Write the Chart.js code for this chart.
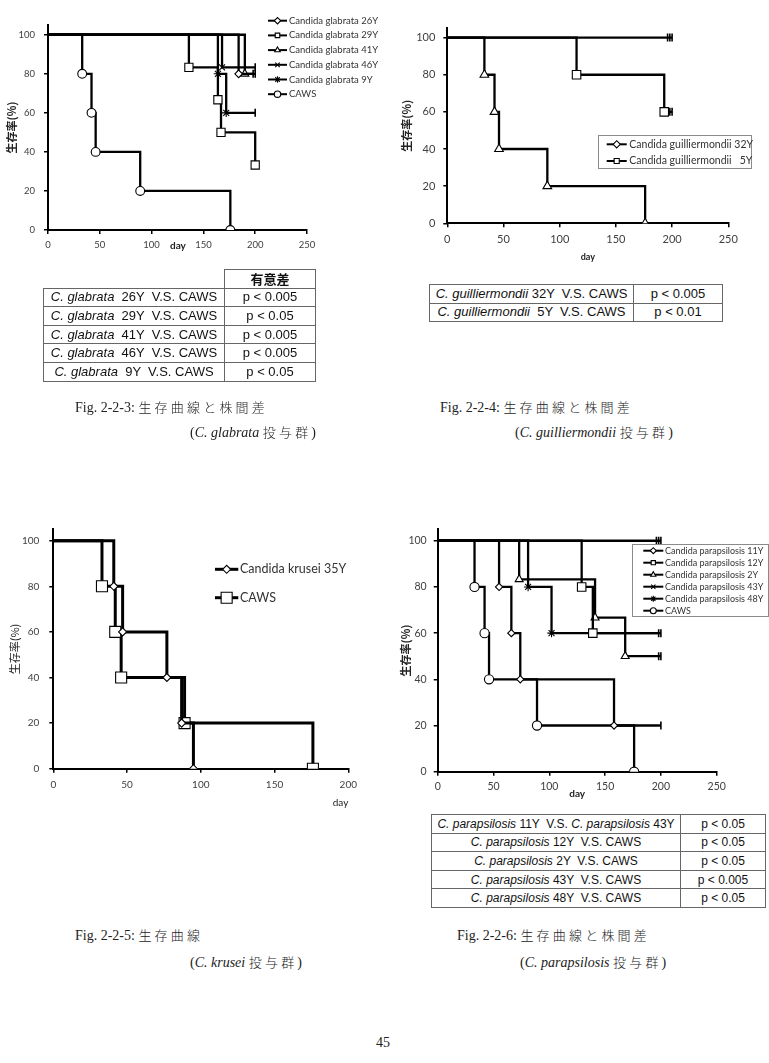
<!DOCTYPE html>
<html>
<head>
<meta charset="utf-8">
<script src="https://cdn.jsdelivr.net/npm/chart.js@4.4.1/dist/chart.umd.min.js"></script>
<style>
  body { margin: 0; background: #fff; width: 769px; height: 1063px; position: relative; overflow: hidden; }
  canvas { position: absolute; }
  table { position: absolute; border-collapse: collapse; table-layout: fixed; font-family: "Liberation Sans", Arial, sans-serif; font-size: 13px; color: #111; }
  td { border: 1px solid #666; text-align: center; padding: 0; height: 17.6px; line-height: 16px; white-space: pre; overflow: hidden; }
  td.nb { border-top: none; border-left: none; }
  td.h { font-family: "Noto Sans CJK JP", sans-serif; font-weight: bold; font-size: 13px; }
  .cap { position: absolute; font-family: "Liberation Serif", "Times New Roman", serif; font-size: 14px; line-height: 16px; color: #222; white-space: nowrap; }
  .jp { font-family: "Noto Sans CJK JP", sans-serif; font-size: 13px; letter-spacing: 3.2px; font-weight: 300; }
  .lbl { position: absolute; font-family: Lato, sans-serif; font-size: 10px; font-weight: bold; color: #222; }
</style>
</head>
<body>

<canvas id="c1"></canvas>
<canvas id="c2"></canvas>
<canvas id="c3"></canvas>
<canvas id="c4"></canvas>
<span class="lbl" style="left:170px;top:239px">day</span>

<table style="left:43px;top:269px;width:272px">
  <colgroup><col style="width:181px"><col style="width:91px"></colgroup>
  <tr><td class="nb"></td><td class="h">有意差</td></tr>
  <tr><td><i>C. glabrata</i>  26Y  V.S. CAWS</td><td>p &lt; 0.005</td></tr>
  <tr><td><i>C. glabrata</i>  29Y  V.S. CAWS</td><td>p &lt; 0.05</td></tr>
  <tr><td><i>C. glabrata</i>  41Y  V.S. CAWS</td><td>p &lt; 0.005</td></tr>
  <tr><td><i>C. glabrata</i>  46Y  V.S. CAWS</td><td>p &lt; 0.005</td></tr>
  <tr><td><i>C. glabrata</i>  9Y  V.S. CAWS</td><td>p &lt; 0.05</td></tr>
</table>

<table style="left:429px;top:284px;width:293px">
  <colgroup><col style="width:204px"><col style="width:89px"></colgroup>
  <tr><td><i>C. guilliermondii</i> 32Y  V.S. CAWS</td><td>p &lt; 0.005</td></tr>
  <tr><td><i>C. guilliermondii</i>  5Y  V.S. CAWS</td><td>p &lt; 0.01</td></tr>
</table>

<table style="left:431px;top:814px;width:334px;font-size:12px">
  <colgroup><col style="width:249px"><col style="width:85px"></colgroup>
  <tr><td><i>C. parapsilosis</i> 11Y  V.S. <i>C. parapsilosis</i> 43Y</td><td>p &lt; 0.05</td></tr>
  <tr><td><i>C. parapsilosis</i> 12Y  V.S. CAWS</td><td>p &lt; 0.05</td></tr>
  <tr><td><i>C. parapsilosis</i> 2Y  V.S. CAWS</td><td>p &lt; 0.05</td></tr>
  <tr><td><i>C. parapsilosis</i> 43Y  V.S. CAWS</td><td>p &lt; 0.005</td></tr>
  <tr><td><i>C. parapsilosis</i> 48Y  V.S. CAWS</td><td>p &lt; 0.05</td></tr>
</table>

<div class="cap" style="left:75px;top:399px">Fig. 2-2-3: <span class="jp">生存曲線と株間差</span></div>
<div class="cap" style="left:190px;top:424px">(<i>C. glabrata</i> <span class="jp">投与群</span>)</div>
<div class="cap" style="left:440px;top:399px">Fig. 2-2-4: <span class="jp">生存曲線と株間差</span></div>
<div class="cap" style="left:515px;top:424px">(<i>C. guilliermondii</i> <span class="jp">投与群</span>)</div>
<div class="cap" style="left:75px;top:927px">Fig. 2-2-5: <span class="jp">生存曲線</span></div>
<div class="cap" style="left:190px;top:954px">(<i>C. krusei</i> <span class="jp">投与群</span>)</div>
<div class="cap" style="left:457px;top:927px">Fig. 2-2-6: <span class="jp">生存曲線と株間差</span></div>
<div class="cap" style="left:520px;top:954px">(<i>C. parapsilosis</i> <span class="jp">投与群</span>)</div>
<div class="cap" style="left:376px;top:1035px">45</div>

<script>
// survival curves: [day, survival %]
const CAWS = [[0, 100], [33, 80], [42, 60], [46, 40], [89, 20], [176, 0]];

const GLABRATA_26Y = [[0, 100], [184, 80], [198, 80]];
const GLABRATA_29Y = [[0, 100], [136, 83.3], [164, 66.7], [167, 50], [200, 33.3]];
const GLABRATA_41Y = [[0, 100], [190, 80], [200, 80]];
const GLABRATA_46Y = [[0, 100], [168, 83.3], [200, 83.3]];
const GLABRATA_9Y = [[0, 100], [164, 80], [172, 60], [200, 60]];

const GUIL_32Y = [[0, 100], [196, 100], [198, 100], [200, 100]];
const GUIL_5Y = [[0, 100], [115, 80], [193, 60], [198, 60], [200, 60]];

const KRUSEI_35Y = [[0, 100], [41, 80], [47, 60], [77, 40], [87, 20], [95, 0]];

const PARA_11Y = [[0, 100], [55, 80], [66, 60], [74, 40], [158, 20], [200, 20]];
const PARA_12Y = [[0, 100], [129, 80], [139, 60], [200, 60]];
const PARA_2Y = [[0, 100], [73, 83.3], [141, 66.7], [168, 50], [198, 50], [200, 50]];
const PARA_43Y = [[0, 100], [196, 100], [198, 100], [200, 100]];
const PARA_48Y = [[0, 100], [81, 80], [102, 60], [198, 60]];

const GLABRATA_LABELS = ['Candida glabrata 26Y', 'Candida glabrata 29Y', 'Candida glabrata 41Y',
  'Candida glabrata 46Y', 'Candida glabrata 9Y', 'CAWS'];
const GUIL_LABELS = ['Candida guilliermondii 32Y', 'Candida guilliermondii   5Y'];
const KRUSEI_LABELS = ['Candida krusei 35Y', 'CAWS'];
const PARA_LABELS = ['Candida parapsilosis 11Y', 'Candida parapsilosis 12Y', 'Candida parapsilosis 2Y',
  'Candida parapsilosis 43Y', 'Candida parapsilosis 48Y', 'CAWS'];

const Y_TICKS = [0, 20, 40, 60, 80, 100];
const X_TICKS_250 = [0, 50, 100, 150, 200, 250];
const X_TICKS_200 = [0, 50, 100, 150, 200];

// a point equal to the one before it is a censored animal -> vertical tick
function km(label, pts, marker, r, lw, inLegend = true) {
  const cens = pts.map((p, i) => i > 0 && p[1] === pts[i - 1][1]);
  return {
    label,
    data: pts.map(p => ({ x: p[0], y: p[1] })),
    stepped: 'before',
    borderColor: '#000',
    borderWidth: lw,
    fill: false,
    pointStyle: pts.map((p, i) => cens[i] ? 'line' : marker),
    pointRadius: pts.map((p, i) => i === 0 ? 0 : (cens[i] ? 4 : r)),
    pointRotation: pts.map((p, i) => cens[i] ? 90 : 0),
    pointBackgroundColor: '#fff',
    pointBorderColor: '#000',
    pointBorderWidth: pts.map((p, i) => cens[i] ? 1.6 : 1.1),
    marker, markerR: r, inLegend
  };
}

const kmLegend = {
  id: 'kmLegend',
  afterDraw(chart, args, o) {
    const ctx = chart.ctx;
    ctx.save();
    if (o.box) {
      ctx.fillStyle = '#fff';
      ctx.fillRect(o.box[0], o.box[1], o.box[2], o.box[3]);
      ctx.strokeStyle = '#8a8a8a';
      ctx.lineWidth = 1;
      ctx.strokeRect(o.box[0] + 0.5, o.box[1] + 0.5, o.box[2], o.box[3]);
    }
    const items = chart.data.datasets.filter(d => d.inLegend);
    items.forEach((ds, i) => {
      const y = o.y + i * o.gap;
      ctx.strokeStyle = '#000';
      ctx.lineWidth = o.lw;
      ctx.beginPath();
      ctx.moveTo(o.x, y);
      ctx.lineTo(o.x + o.len, y);
      ctx.stroke();
      ctx.fillStyle = '#fff';
      ctx.lineWidth = 1.1;
      Chart.helpers.drawPoint(ctx, { pointStyle: ds.marker, radius: o.r || ds.markerR, borderWidth: 1.1, rotation: 0 },
        o.x + o.len / 2, y);
      ctx.fillStyle = '#333';
      ctx.font = o.font;
      ctx.textBaseline = 'middle';
      ctx.textAlign = 'left';
      ctx.fillText(ds.label, o.tx, y);
    });
    ctx.restore();
  }
};

function makeChart(id, box, plot, datasets, o) {
  const cv = document.getElementById(id);
  cv.style.left = box[0] + 'px';
  cv.style.top = box[1] + 'px';
  cv.width = box[2];
  cv.height = box[3];
  const tickFont = { family: 'Lato', size: o.tickSize };
  return new Chart(cv, {
    type: 'line',
    data: { datasets },
    options: {
      responsive: false,
      animation: false,
      layout: {
        padding: {
          left: 0,
          top: plot.t - box[1],
          right: box[0] + box[2] - plot.r,
          bottom: box[1] + box[3] - plot.b - o.xh
        }
      },
      plugins: { legend: { display: false }, tooltip: { enabled: false }, kmLegend: o.legend },
      scales: {
        x: {
          type: 'linear', min: 0, max: o.xMax,
          afterBuildTicks: s => { s.ticks = o.xTicks.map(v => ({ value: v })); },
          afterFit: s => { s.height = o.xh; },
          border: { color: '#000', width: 2 },
          grid: { drawOnChartArea: false, color: '#000', lineWidth: 1.5, tickLength: 4 },
          ticks: { color: '#404040', font: tickFont, padding: o.xPad, maxRotation: 0, autoSkip: false },
          title: o.xTitle || { display: false }
        },
        y: {
          min: 0, max: 105,
          afterBuildTicks: s => { s.ticks = Y_TICKS.map(v => ({ value: v })); },
          afterFit: s => { s.width = plot.l - box[0]; },
          border: { color: '#000', width: 2 },
          grid: { drawOnChartArea: false, color: '#000', lineWidth: 1.5, tickLength: 4 },
          ticks: { color: '#404040', font: tickFont, padding: o.yPad },
          title: {
            display: true, text: '生存率(%)', color: '#222',
            font: { family: 'Noto Sans CJK JP', size: 11, weight: o.yBold ? 'bold' : 'normal' },
            padding: { top: o.yTitleX - 6.6, bottom: 0 }
          }
        }
      }
    },
    plugins: [kmLegend]
  });
}

// Fig. 2-2-3 glabrata
makeChart('c1', [0, 10, 385, 250], { l: 48, r: 307, t: 25, b: 230 }, [
  km(GLABRATA_LABELS[0], GLABRATA_26Y, 'rectRot', 3.8, 2.3),
  km(GLABRATA_LABELS[1], GLABRATA_29Y, 'rect', 5.8, 2.3),
  km(GLABRATA_LABELS[2], GLABRATA_41Y, 'triangle', 4.6, 2.3),
  km(GLABRATA_LABELS[3], GLABRATA_46Y, 'crossRot', 4.2, 2.3),
  km(GLABRATA_LABELS[4], GLABRATA_9Y, 'star', 4.2, 2.3),
  km(GLABRATA_LABELS[5], CAWS, 'circle', 4.4, 2.3)
], {
  xMax: 250, xTicks: X_TICKS_250, xh: 20, xPad: 5, yPad: 9, tickSize: 9.5, yBold: true, yTitleX: 12,
  legend: { x: 268, len: 19, tx: 289, y: 10.7, gap: 14.7, lw: 2, r: 3.2, font: '9.5px Lato' }
});

// Fig. 2-2-4 guilliermondii
makeChart('c2', [385, 10, 384, 260], { l: 447.3, r: 728.3, t: 28.3, b: 223.3 }, [
  km(GUIL_LABELS[0], GUIL_32Y, 'rectRot', 3.8, 2.3),
  km(GUIL_LABELS[1], GUIL_5Y, 'rect', 6, 2.3),
  km('CAWS', CAWS, 'triangle', 5, 2.3, false)
], {
  xMax: 250, xTicks: X_TICKS_250, xh: 38.8, xPad: 5.5, yPad: 8, tickSize: 11, yBold: true, yTitleX: 21.7,
  xTitle: { display: true, text: 'day', color: '#222', font: { family: 'Lato', size: 9, weight: 'bold' }, padding: 0 },
  legend: { box: [213, 125, 153, 33], x: 221.7, len: 20, tx: 244.3, y: 134.3, gap: 16.7, lw: 2, r: 3.6, font: '10.5px Lato' }
});

// Fig. 2-2-5 krusei
makeChart('c3', [0, 510, 385, 300], { l: 53.3, r: 348.3, t: 529.3, b: 768.7 }, [
  km(KRUSEI_LABELS[0], KRUSEI_35Y, 'rectRot', 4, 3),
  km(KRUSEI_LABELS[1], CAWS, 'rect', 7.8, 3)
], {
  xMax: 200, xTicks: X_TICKS_200, xh: 39.6, xPad: 6.3, yPad: 10, tickSize: 10, yBold: false, yTitleX: 15,
  xTitle: { display: true, text: 'day', align: 'end', color: '#222', font: { family: 'Lato', size: 10 }, padding: 0 },
  legend: { x: 215, len: 23.3, tx: 240, y: 59.3, gap: 28.4, lw: 3, font: '12.5px Lato' }
});

// Fig. 2-2-6 parapsilosis
makeChart('c4', [385, 510, 384, 295], { l: 437.7, r: 716.7, t: 529.2, b: 771.7 }, [
  km(PARA_LABELS[0], PARA_11Y, 'rectRot', 3.6, 2.3),
  km(PARA_LABELS[1], PARA_12Y, 'rect', 6, 2.3),
  km(PARA_LABELS[2], PARA_2Y, 'triangle', 4.6, 2.3),
  km(PARA_LABELS[3], PARA_43Y, 'crossRot', 4.2, 2.3),
  km(PARA_LABELS[4], PARA_48Y, 'star', 4.2, 2.3),
  km(PARA_LABELS[5], CAWS, 'circle', 4.6, 2.3)
], {
  xMax: 250, xTicks: X_TICKS_250, xh: 28.3, xPad: 5, yPad: 7, tickSize: 10.5, yBold: true, yTitleX: 20.7,
  xTitle: { display: true, text: 'day', color: '#222', font: { family: 'Lato', size: 10, weight: 'bold' }, padding: 0 },
  legend: { box: [247, 34, 136, 72], x: 258.3, len: 20, tx: 280, y: 40.7, gap: 12, lw: 2, r: 3, font: '9px Lato' }
});
</script>
</body>
</html>
